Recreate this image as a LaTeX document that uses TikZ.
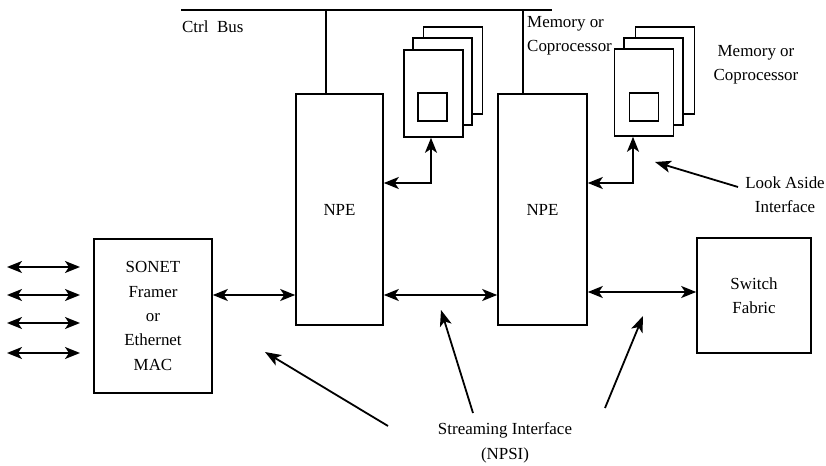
\documentclass[tikz,border=0pt]{standalone}
\usepackage{fontspec}
\setmainfont{Liberation Serif}
\usetikzlibrary{arrows.meta}
\begin{document}
\begin{tikzpicture}[x=1bp,y=-1bp,
  txt/.style={font=\fontsize{17}{24.5}\selectfont, inner sep=0pt, align=center},
  box/.style={draw, line width=1.6bp, inner sep=0pt, txt},
  card/.style={draw, fill=white, line width=1.6bp, minimum width=59bp, minimum height=87bp, inner sep=0pt},
  chip/.style={draw, fill=white, line width=1.6bp, minimum width=29bp, minimum height=28bp, inner sep=0pt},
  conn/.style={line width=1.8bp},
  biarrow/.style={conn, {Stealth[length=15bp,width=12bp,inset=4bp]}-{Stealth[length=15bp,width=12bp,inset=4bp]}},
  pointer/.style={conn, -{Stealth[length=16bp,width=12bp,inset=4bp]}}]
\useasboundingbox (0,0) rectangle (826,466);

% helper coordinates for rails and columns
\coordinate (busL) at (181,10);
\coordinate (busR) at (552,10);
\coordinate (x326) at (326,0);
\coordinate (x523) at (523,0);
\coordinate (x431) at (431,0);
\coordinate (x633) at (633,0);
\coordinate (y183) at (0,183);
\coordinate (y295) at (0,295);
\coordinate (y292) at (0,292);

% main blocks
\node[box, minimum width=118bp, minimum height=154bp] (sonet) at (153,316) {SONET\\Framer\\or\\Ethernet\\MAC};
\node[box, minimum width=87bp, minimum height=231bp] (npe1) at (339.5,209.5) {NPE};
\node[box, minimum width=89bp, minimum height=231bp] (npe2) at (542.5,209.5) {NPE};
\node[box, minimum width=114bp, minimum height=115bp] (sw) at (754,295.5) {Switch\\Fabric};

% memory / coprocessor stacks
\node[card] (m1c) at (453,70.5) {};
\node[card] (m1b) at (442.5,81.5) {};
\node[card] (m1a) at (433.5,93.5) {};
\node[chip] (m1s) at (432.5,107) {};
\node[card] (m2c) at (665,70.5) {};
\node[card] (m2b) at (653.5,81.5) {};
\node[card] (m2a) at (644,92.5) {};
\node[chip] (m2s) at (644,107) {};

% control bus
\draw[conn] (busL) -- (busR);
\draw[conn] (busL -| x326) -- (npe1.north -| x326);
\draw[conn] (busL -| x523) -- (npe2.north -| x523);

% look-aside links
\draw[biarrow] (npe1.east |- y183) -| (m1a.south -| x431);
\draw[biarrow] (npe2.east |- y183) -| (m2a.south -| x633);

% line-side ports
\foreach \y [count=\i] in {267,295,323,353} {
  \coordinate (pa\i) at (7,\y);
  \coordinate (pb\i) at (80,\y);
  \draw[biarrow] (pa\i) -- (pb\i);
}

% streaming links
\draw[biarrow] (sonet.east |- y295) -- (npe1.west |- y295);
\draw[biarrow] (npe1.east |- y295) -- (npe2.west |- y295);
\draw[biarrow] (npe2.east |- y292) -- (sw.west |- y292);

% labels
\node[txt, anchor=west] (ctrl) at (182,27) {Ctrl\ \ Bus};
\node[txt, align=left, anchor=west] (mem1) at (527,36) {Memory or\\Coprocessor};
\node[txt] (mem2) at (756,65) {Memory or\\Coprocessor};
\node[txt] (look) at (785,195) {Look Aside\\Interface};
\node[txt] (npsi) at (505,443) {Streaming Interface\\(NPSI)};

% callout arrows
\coordinate (lookTail) at (738,187);
\coordinate (lookTip) at (655,162);
\draw[pointer] (lookTail) -- (lookTip);
\coordinate (sTail1) at (388,426);
\coordinate (sTip1) at (265,352);
\coordinate (sTail2) at (473,413);
\coordinate (sTip2) at (441,310);
\coordinate (sTail3) at (605,408);
\coordinate (sTip3) at (643,316);
\draw[pointer] (sTail1) -- (sTip1);
\draw[pointer] (sTail2) -- (sTip2);
\draw[pointer] (sTail3) -- (sTip3);
\end{tikzpicture}
\end{document}
